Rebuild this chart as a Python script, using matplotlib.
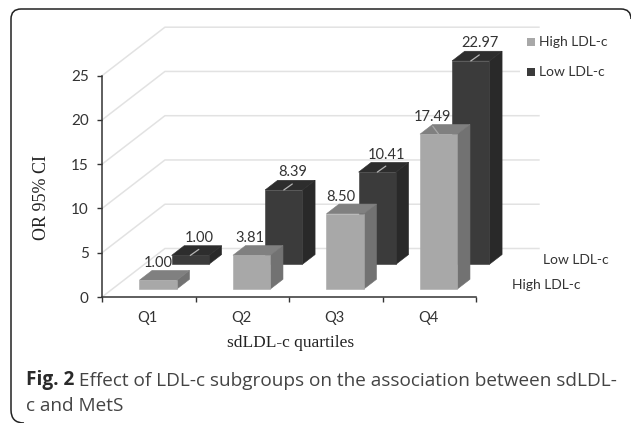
#!/usr/bin/env python3
"""Pseudo-3D clustered bars, OR by sdLDL-c quartile and LDL-c subgroup."""
import matplotlib
matplotlib.use('Agg')
import matplotlib.pyplot as plt
from matplotlib.patches import PathPatch, Rectangle
from matplotlib.path import Path
from matplotlib.transforms import Affine2D

quartiles = ['Q1', 'Q2', 'Q3', 'Q4']
high_ldl = [1.00, 3.81, 8.50, 17.49]
low_ldl = [1.00, 8.39, 10.41, 22.97]
y_ticks = [0, 5, 10, 15, 20, 25]
series_names = ['High LDL-c', 'Low LDL-c']

W, H = 631, 423
plt.rcParams['font.family'] = ['Lato', 'DejaVu Sans']
TXT = '#333333'
CHART_FS = 10.5
LEGEND_FS = 10

# depth axis: how far a point at depth 1 is shifted, in data units
DX = 63 / 93.6
DY = 48.5 / 8.85
BAR_X = 0.29
BAR_W = 0.40
BAR_D = 0.20
GRID = '#e2e2e2'

styles = {
    'high': dict(front='#a8a8a8', side='#727272', top='#808080', depth=0.165),
    'low': dict(front='#3b3b3b', side='#292929', top='#2d2d2d', depth=0.675),
}


def px(x, y):
    return x / W, 1 - y / H


def proj(x, d, y):
    return x + d * DX, y + d * DY


fig = plt.figure(figsize=(W / 100, H / 100), dpi=100, facecolor='white')
ax = fig.add_axes([102 / W, (H - 297) / H, 374 / W, 221.3 / H])
ax.set_xlim(0, 4)
ax.set_ylim(0, 25)
ax.patch.set_alpha(0)


def poly(pts, color, z):
    # thin same-colour edge closes the antialiasing seam between faces
    ax.fill(*zip(*pts), facecolor=color, edgecolor=color, lw=0.4, clip_on=False, zorder=z)


def bar(i, val, st, z):
    x0 = i + BAR_X
    x1 = x0 + BAR_W
    d0 = st['depth']
    d1 = d0 + BAR_D
    poly([proj(x1, d0, 0), proj(x1, d1, 0), proj(x1, d1, val), proj(x1, d0, val)], st['side'], z)
    poly([proj(x0, d0, val), proj(x1, d0, val), proj(x1, d1, val), proj(x0, d1, val)], st['top'], z)
    poly([proj(x0, d0, 0), proj(x1, d0, 0), proj(x1, d0, val), proj(x0, d0, val)], st['front'], z)


# back wall, floor and the diagonal gridlines
for v in y_ticks:
    xs, ys = zip(proj(0, 0, v), proj(0, 1, v), proj(4, 1, v))
    ax.plot(xs, ys, color=GRID, lw=1.1, clip_on=False, zorder=1)

for i, v in enumerate(low_ldl):
    bar(i, v, styles['low'], 3)
    x, y = proj(i + BAR_X + BAR_W / 2, styles['low']['depth'], v)
    ax.annotate('', xy=(x, y), xytext=(8.5, 6), textcoords='offset pixels',
                annotation_clip=False, zorder=4,
                arrowprops=dict(arrowstyle='-', color='#b5b5b5', lw=0.9, shrinkA=0, shrinkB=0))
    ax.annotate(f'{v:.2f}', xy=(x, y), xytext=(9, 17.5), textcoords='offset pixels',
                ha='center', va='center', fontsize=CHART_FS, color=TXT, zorder=12,
                annotation_clip=False)

for i, v in enumerate(high_ldl):
    bar(i, v, styles['high'], 5 + i)
    x, y = proj(i + BAR_X + BAR_W / 2, styles['high']['depth'], v)
    if v == max(high_ldl):
        ax.annotate('', xy=(x, y), xytext=(-6, 8), textcoords='offset pixels',
                    annotation_clip=False, zorder=10,
                    arrowprops=dict(arrowstyle='-', color='#a8a8a8', lw=0.9, shrinkA=0, shrinkB=0))
    ax.annotate(f'{v:.2f}', xy=(x, y), xytext=(-2 * i, 17), textcoords='offset pixels',
                ha='center', va='center', fontsize=CHART_FS, color=TXT, zorder=12,
                annotation_clip=False)

for s in ['top', 'right']:
    ax.spines[s].set_visible(False)
for s in ['left', 'bottom']:
    ax.spines[s].set_color('#333333')
    ax.spines[s].set_linewidth(1.1)
    ax.spines[s].set_zorder(20)

ax.set_yticks(y_ticks)
ax.set_xticks(range(5), labels=[''] * 5)
ax.set_xticks([i + 0.49 for i in range(4)], labels=quartiles, minor=True)
ax.tick_params(axis='both', which='major', length=3.5, width=1, color='#333333',
               labelsize=CHART_FS + 0.5, labelcolor=TXT, pad=6)
ax.tick_params(axis='x', which='minor', length=0, labelsize=CHART_FS, labelcolor=TXT, pad=10)

# axis titles
serif = ['Liberation Serif', 'DejaVu Serif']
fig.text(*px(42, 197.5), 'OR 95% CI', rotation=90, ha='center', va='center',
         family=serif, fontsize=13, color='#222222')
fig.text(*px(291, 343), 'sdLDL-c quartiles', ha='center', va='center',
         family=serif, fontsize=12.5, color='#222222')

# legend
for name, col, yy in zip(series_names, [styles['high']['front'], styles['low']['front']], [42.5, 72]):
    fig.patches.append(Rectangle(px(520, yy + 8), 110 / W, 16 / H, transform=fig.transFigure,
                                 facecolor='white', edgecolor='none', zorder=5))
    fig.patches.append(Rectangle(px(526.5, yy + 4), 8 / W, 8 / H, transform=fig.transFigure,
                                 facecolor=col, edgecolor='none', zorder=6))
    fig.text(*px(539, yy), name, ha='left', va='center', fontsize=LEGEND_FS, color=TXT, zorder=7)

# depth axis labels
fig.text(*px(543, 260), series_names[1], ha='left', va='center', fontsize=LEGEND_FS, color=TXT)
fig.text(*px(511.5, 285), series_names[0], ha='left', va='center', fontsize=LEGEND_FS, color=TXT)

# rounded frame, open at the bottom and right where it runs off the page
frame_path = Path(
    [(24, 423), (11, 423), (11, 410), (11, 19), (11, 9), (21, 9), (621, 9), (631, 9), (631, 19)],
    [Path.MOVETO, Path.CURVE3, Path.CURVE3, Path.LINETO, Path.CURVE3, Path.CURVE3,
     Path.LINETO, Path.CURVE3, Path.CURVE3],
)
fig.patches.append(PathPatch(frame_path, facecolor='none', edgecolor='#222222', lw=1.1, zorder=30,
                             transform=Affine2D().scale(1, -1).translate(0, H)))

# caption
capfont = ['Open Sans', 'DejaVu Sans']
cap = fig.text(*px(26, 385), 'Fig. 2', fontsize=13.7, weight='bold', family=capfont,
               color='#2a2a2a', va='baseline')
ax.annotate(' Effect of LDL-c subgroups on the association between sdLDL-', xy=(1, 0),
            xycoords=cap, va='bottom', ha='left', fontsize=13.7, family=capfont,
            color='#444444', annotation_clip=False)
fig.text(*px(26, 411), 'c and MetS', fontsize=13.7, family=capfont, color='#444444', va='baseline')

fig.savefig('out.png', dpi=100)
